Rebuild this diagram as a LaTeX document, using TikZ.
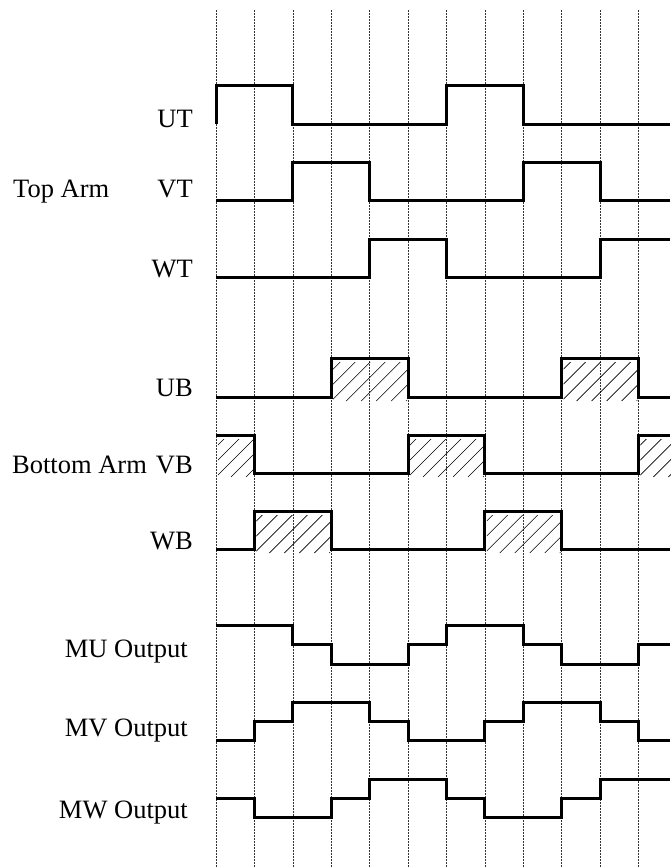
\documentclass[tikz,border=0pt]{standalone}
\usepackage{fontspec}
\setmainfont{Liberation Serif}
\begin{document}
\begin{tikzpicture}[x=1pt,y=-1pt,
  gridline/.style={line width=0.6pt,black!80,dash pattern=on 2pt off 1pt},
  sig/.style={line width=3pt,line join=miter,line cap=butt},
  hatchline/.style={line width=0.6pt},
  lbl/.style={inner sep=0pt,font=\fontsize{26.5}{30}\selectfont}]
\useasboundingbox (0,0) rectangle (670,868);
\newcommand\hatchbox[4]{%
  \begin{scope}
    \clip (#1+2,#3+4) rectangle (#2-1,#4+4);
    \foreach \k in {-60,-45,...,120} \draw[hatchline] ({#1+\k},{#4+4}) -- ++(60,-60);
  \end{scope}}
% grid
\foreach \i in {0,...,11} \draw[gridline] ({216+38.4*\i},10) -- ({216+38.4*\i},868);
% hatching
\hatchbox{331.2}{408}{358}{397}
\hatchbox{561.6}{638.4}{358}{397}
\hatchbox{216}{254.4}{435}{473}
\hatchbox{408}{484.8}{435}{473}
\hatchbox{638.4}{672}{435}{473}
\hatchbox{254.4}{331.2}{511}{549}
\hatchbox{484.8}{561.6}{511}{549}
% top arm
\draw[sig] (216,124)--(216,85)--(292.8,85)--(292.8,124)--(446.4,124)--(446.4,85)--(523.2,85)--(523.2,124)--(670,124);
\draw[sig] (216,200)--(292.8,200)--(292.8,162)--(369.6,162)--(369.6,200)--(523.2,200)--(523.2,162)--(600,162)--(600,200)--(670,200);
\draw[sig] (216,277)--(369.6,277)--(369.6,239)--(446.4,239)--(446.4,277)--(600,277)--(600,239)--(670,239);
% bottom arm
\draw[sig] (216,397)--(331.2,397)--(331.2,358)--(408,358)--(408,397)--(561.6,397)--(561.6,358)--(638.4,358)--(638.4,397)--(670,397);
\draw[sig] (216,435)--(254.4,435)--(254.4,473)--(408,473)--(408,435)--(484.8,435)--(484.8,473)--(638.4,473)--(638.4,435)--(670,435);
\draw[sig] (216,549)--(254.4,549)--(254.4,511)--(331.2,511)--(331.2,549)--(484.8,549)--(484.8,511)--(561.6,511)--(561.6,549)--(670,549);
% outputs
\draw[sig] (216,625)--(292.8,625)--(292.8,644)--(331.2,644)--(331.2,664)--(408,664)--(408,644)--(446.4,644)--(446.4,625)--(523.2,625)--(523.2,644)--(561.6,644)--(561.6,664)--(638.4,664)--(638.4,644)--(670,644);
\draw[sig] (216,740)--(254.4,740)--(254.4,721)--(292.8,721)--(292.8,702)--(369.6,702)--(369.6,721)--(408,721)--(408,740)--(484.8,740)--(484.8,721)--(523.2,721)--(523.2,702)--(600,702)--(600,721)--(638.4,721)--(638.4,740)--(670,740);
\draw[sig] (216,798)--(254.4,798)--(254.4,817)--(331.2,817)--(331.2,798)--(369.6,798)--(369.6,779)--(446.4,779)--(446.4,798)--(484.8,798)--(484.8,817)--(561.6,817)--(561.6,798)--(600,798)--(600,779)--(670,779);
% labels
\node[lbl,anchor=base east] (ut) at (193,127) {UT};
\node[lbl,anchor=base east] (vt) at (193,197) {VT};
\node[lbl,anchor=base east] (wt) at (193,277) {WT};
\node[lbl,anchor=base west] (toparm) at (13,197) {Top Arm};
\node[lbl,anchor=base east] (ub) at (193,396) {UB};
\node[lbl,anchor=base east] (vb) at (193,473) {VB};
\node[lbl,anchor=base east] (wb) at (193,549) {WB};
\node[lbl,anchor=base west] (botarm) at (12,473) {Bottom Arm};
\node[lbl,anchor=base east] (mu) at (188,657) {MU Output};
\node[lbl,anchor=base east] (mv) at (188,736) {MV Output};
\node[lbl,anchor=base east] (mw) at (188,818) {MW Output};
\end{tikzpicture}
\end{document}
